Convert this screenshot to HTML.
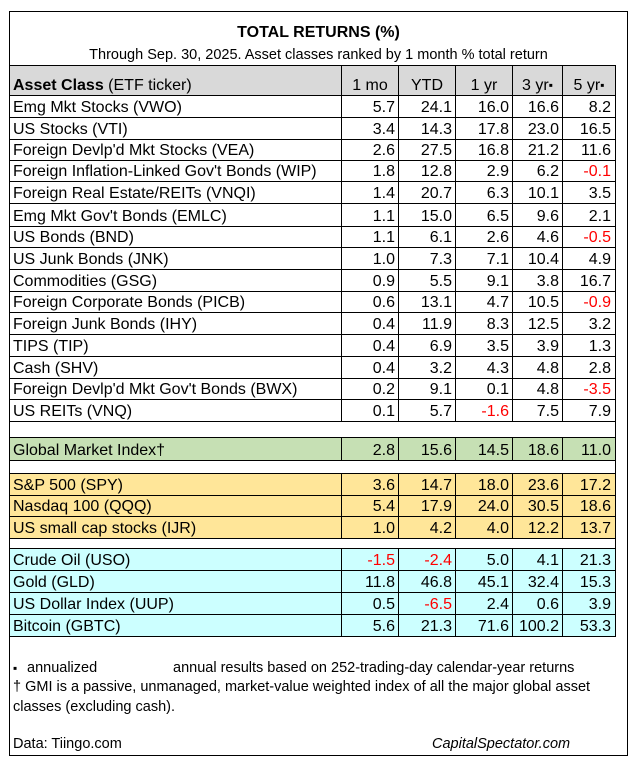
<!DOCTYPE html>
<html><head><meta charset="utf-8">
<style>
*{margin:0;padding:0}
html,body{width:637px;height:763px;background:#fff;overflow:hidden}
body{position:relative;font-family:"Liberation Sans",Arial,sans-serif;color:#000}
.box{position:absolute;left:9px;top:11px;width:619px;height:745px;border:1px solid #000;box-sizing:border-box}
.title{position:absolute;left:9px;width:619px;top:23px;line-height:20px;font-size:16px;font-weight:bold;text-align:center}
.sub{position:absolute;left:9px;width:619px;top:46px;line-height:18px;font-size:14.5px;text-align:center;white-space:nowrap}
.r{position:absolute;left:9px;width:607px;border:1px solid #000;box-sizing:border-box;font-size:16px}
.c{position:absolute;top:0;bottom:0;border-left:1px solid #000;box-sizing:border-box}
.c span,.n{position:absolute;bottom:0px;line-height:18px;white-space:nowrap}
.c span{right:3px}
.c5 span{right:4px}
.n{left:3px}
.c1{left:331px;width:57px}
.c2{left:388px;width:57px}
.c3{left:445px;width:57px}
.c4{left:502px;width:50px}
.c5{left:552px;width:53px}
.h .c span{left:0;right:0;text-align:center}
.red{color:#ff0000}
.g{background:#d9d9d9}
.gr{background:#c6e0b4}
.o{background:#ffe699}
.cy{background:#ccffff}
.f{position:absolute;font-size:14.5px;line-height:19px;white-space:nowrap}
.sq{font-size:12px;vertical-align:1px;font-style:normal}
</style></head><body>
<div class="box"></div>
<div class="title">TOTAL RETURNS (%)</div>
<div class="sub">Through Sep. 30, 2025. Asset classes ranked by 1 month % total return</div>

<div class="r g h" style="top:65px;height:31px"><div class="n"><b>Asset Class</b> (ETF ticker)</div><div class="c c1"><span>1 mo</span></div><div class="c c2"><span>YTD</span></div><div class="c c3"><span>1 yr</span></div><div class="c c4"><span>3 yr<i class="sq">▪</i></span></div><div class="c c5"><span>5 yr<i class="sq">▪</i></span></div></div>

<div class="r" style="top:95px;height:23px"><div class="n">Emg Mkt Stocks (VWO)</div><div class="c c1"><span>5.7</span></div><div class="c c2"><span>24.1</span></div><div class="c c3"><span>16.0</span></div><div class="c c4"><span>16.6</span></div><div class="c c5"><span>8.2</span></div></div>
<div class="r" style="top:117px;height:23px"><div class="n">US Stocks (VTI)</div><div class="c c1"><span>3.4</span></div><div class="c c2"><span>14.3</span></div><div class="c c3"><span>17.8</span></div><div class="c c4"><span>23.0</span></div><div class="c c5"><span>16.5</span></div></div>
<div class="r" style="top:139px;height:22px"><div class="n">Foreign Devlp'd Mkt Stocks (VEA)</div><div class="c c1"><span>2.6</span></div><div class="c c2"><span>27.5</span></div><div class="c c3"><span>16.8</span></div><div class="c c4"><span>21.2</span></div><div class="c c5"><span>11.6</span></div></div>
<div class="r" style="top:160px;height:22px"><div class="n">Foreign Inflation-Linked Gov't Bonds (WIP)</div><div class="c c1"><span>1.8</span></div><div class="c c2"><span>12.8</span></div><div class="c c3"><span>2.9</span></div><div class="c c4"><span>6.2</span></div><div class="c c5"><span class="red">-0.1</span></div></div>
<div class="r" style="top:181px;height:23px"><div class="n">Foreign Real Estate/REITs (VNQI)</div><div class="c c1"><span>1.4</span></div><div class="c c2"><span>20.7</span></div><div class="c c3"><span>6.3</span></div><div class="c c4"><span>10.1</span></div><div class="c c5"><span>3.5</span></div></div>
<div class="r" style="top:203px;height:24px"><div class="n">Emg Mkt Gov't Bonds (EMLC)</div><div class="c c1"><span>1.1</span></div><div class="c c2"><span>15.0</span></div><div class="c c3"><span>6.5</span></div><div class="c c4"><span>9.6</span></div><div class="c c5"><span>2.1</span></div></div>
<div class="r" style="top:226px;height:22px"><div class="n">US Bonds (BND)</div><div class="c c1"><span>1.1</span></div><div class="c c2"><span>6.1</span></div><div class="c c3"><span>2.6</span></div><div class="c c4"><span>4.6</span></div><div class="c c5"><span class="red">-0.5</span></div></div>
<div class="r" style="top:247px;height:23px"><div class="n">US Junk Bonds (JNK)</div><div class="c c1"><span>1.0</span></div><div class="c c2"><span>7.3</span></div><div class="c c3"><span>7.1</span></div><div class="c c4"><span>10.4</span></div><div class="c c5"><span>4.9</span></div></div>
<div class="r" style="top:269px;height:23px"><div class="n">Commodities (GSG)</div><div class="c c1"><span>0.9</span></div><div class="c c2"><span>5.5</span></div><div class="c c3"><span>9.1</span></div><div class="c c4"><span>3.8</span></div><div class="c c5"><span>16.7</span></div></div>
<div class="r" style="top:291px;height:22px"><div class="n">Foreign Corporate Bonds (PICB)</div><div class="c c1"><span>0.6</span></div><div class="c c2"><span>13.1</span></div><div class="c c3"><span>4.7</span></div><div class="c c4"><span>10.5</span></div><div class="c c5"><span class="red">-0.9</span></div></div>
<div class="r" style="top:312px;height:23px"><div class="n">Foreign Junk Bonds (IHY)</div><div class="c c1"><span>0.4</span></div><div class="c c2"><span>11.9</span></div><div class="c c3"><span>8.3</span></div><div class="c c4"><span>12.5</span></div><div class="c c5"><span>3.2</span></div></div>
<div class="r" style="top:334px;height:23px"><div class="n">TIPS (TIP)</div><div class="c c1"><span>0.4</span></div><div class="c c2"><span>6.9</span></div><div class="c c3"><span>3.5</span></div><div class="c c4"><span>3.9</span></div><div class="c c5"><span>1.3</span></div></div>
<div class="r" style="top:356px;height:23px"><div class="n">Cash (SHV)</div><div class="c c1"><span>0.4</span></div><div class="c c2"><span>3.2</span></div><div class="c c3"><span>4.3</span></div><div class="c c4"><span>4.8</span></div><div class="c c5"><span>2.8</span></div></div>
<div class="r" style="top:378px;height:22px"><div class="n">Foreign Devlp'd Mkt Gov't Bonds (BWX)</div><div class="c c1"><span>0.2</span></div><div class="c c2"><span>9.1</span></div><div class="c c3"><span>0.1</span></div><div class="c c4"><span>4.8</span></div><div class="c c5"><span class="red">-3.5</span></div></div>
<div class="r" style="top:399px;height:23px"><div class="n">US REITs (VNQ)</div><div class="c c1"><span>0.1</span></div><div class="c c2"><span>5.7</span></div><div class="c c3"><span class="red">-1.6</span></div><div class="c c4"><span>7.5</span></div><div class="c c5"><span>7.9</span></div></div>

<div class="r" style="top:421px;height:17px"></div>
<div class="r gr" style="top:437px;height:24px"><div class="n">Global Market Index†</div><div class="c c1"><span>2.8</span></div><div class="c c2"><span>15.6</span></div><div class="c c3"><span>14.5</span></div><div class="c c4"><span>18.6</span></div><div class="c c5"><span>11.0</span></div></div>
<div class="r" style="top:460px;height:14px"></div>

<div class="r o" style="top:473px;height:23px"><div class="n">S&amp;P 500 (SPY)</div><div class="c c1"><span>3.6</span></div><div class="c c2"><span>14.7</span></div><div class="c c3"><span>18.0</span></div><div class="c c4"><span>23.6</span></div><div class="c c5"><span>17.2</span></div></div>
<div class="r o" style="top:495px;height:22px"><div class="n">Nasdaq 100 (QQQ)</div><div class="c c1"><span>5.4</span></div><div class="c c2"><span>17.9</span></div><div class="c c3"><span>24.0</span></div><div class="c c4"><span>30.5</span></div><div class="c c5"><span>18.6</span></div></div>
<div class="r o" style="top:516px;height:23px"><div class="n">US small cap stocks (IJR)</div><div class="c c1"><span>1.0</span></div><div class="c c2"><span>4.2</span></div><div class="c c3"><span>4.0</span></div><div class="c c4"><span>12.2</span></div><div class="c c5"><span>13.7</span></div></div>
<div class="r" style="top:538px;height:11px"></div>

<div class="r cy" style="top:548px;height:23px"><div class="n">Crude Oil (USO)</div><div class="c c1"><span class="red">-1.5</span></div><div class="c c2"><span class="red">-2.4</span></div><div class="c c3"><span>5.0</span></div><div class="c c4"><span>4.1</span></div><div class="c c5"><span>21.3</span></div></div>
<div class="r cy" style="top:570px;height:23px"><div class="n">Gold (GLD)</div><div class="c c1"><span>11.8</span></div><div class="c c2"><span>46.8</span></div><div class="c c3"><span>45.1</span></div><div class="c c4"><span>32.4</span></div><div class="c c5"><span>15.3</span></div></div>
<div class="r cy" style="top:592px;height:23px"><div class="n">US Dollar Index (UUP)</div><div class="c c1"><span>0.5</span></div><div class="c c2"><span class="red">-6.5</span></div><div class="c c3"><span>2.4</span></div><div class="c c4"><span>0.6</span></div><div class="c c5"><span>3.9</span></div></div>
<div class="r cy" style="top:614px;height:23px"><div class="n">Bitcoin (GBTC)</div><div class="c c1"><span>5.6</span></div><div class="c c2"><span>21.3</span></div><div class="c c3"><span>71.6</span></div><div class="c c4"><span>100.2</span></div><div class="c c5"><span>53.3</span></div></div>

<div class="f" style="left:13px;top:659px"><i class="sq">▪</i></div>
<div class="f" style="left:27px;top:659px">annualized</div>
<div class="f" style="left:173px;top:659px">annual results based on 252-trading-day calendar-year returns</div>
<div class="f" style="left:13px;top:678px">† GMI is a passive, unmanaged, market-value weighted index of all the major global asset</div>
<div class="f" style="left:13px;top:698px">classes (excluding cash).</div>
<div class="f" style="left:13px;top:735px">Data: Tiingo.com</div>
<div class="f" style="left:432px;top:735px;font-style:italic">CapitalSpectator.com</div>
</body></html>
